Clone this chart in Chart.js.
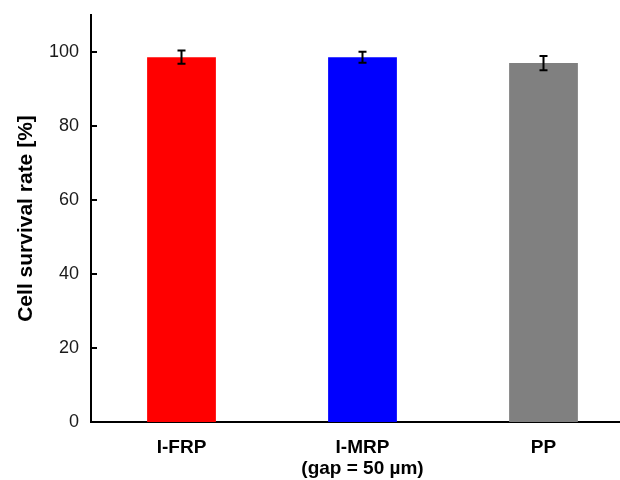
<!DOCTYPE html>
<html>
<head>
<meta charset="utf-8">
<script src="https://cdn.jsdelivr.net/npm/chart.js@4.4.0/dist/chart.umd.min.js"></script>
<style>
  html, body { margin: 0; padding: 0; background: #fff; overflow: hidden; }
  #wrap { width: 640px; height: 480px; }
</style>
</head>
<body>
<div id="wrap"><canvas id="survival-chart"></canvas></div>
<script>
// data
var categories = ['I-FRP', ['I-MRP', '(gap = 50 \u00b5m)'], 'PP'];
var survival = [98.6, 98.6, 97.0];
var survivalErr = [1.8, 1.5, 1.9];
var barColors = ['#ff0000', '#0000ff', '#808080'];
var yTicks = [0, 20, 40, 60, 80, 100];

// error bars + inward tick marks
var extras = {
  id: 'extras',
  afterDatasetsDraw: function (chart) {
    var c = chart.ctx;
    var x = chart.scales.x, y = chart.scales.y;
    c.save();
    c.strokeStyle = '#000';
    c.lineWidth = 2;
    survival.forEach(function (v, i) {
      var px = x.getPixelForValue(i);
      var top = y.getPixelForValue(v + survivalErr[i]);
      var bot = y.getPixelForValue(v - survivalErr[i]);
      c.beginPath();
      c.moveTo(px, top); c.lineTo(px, bot);
      c.moveTo(px - 4, top); c.lineTo(px + 4, top);
      c.moveTo(px - 4, bot); c.lineTo(px + 4, bot);
      c.stroke();
    });
    // tick marks pointing into the plot
    var left = chart.chartArea.left;
    yTicks.forEach(function (t) {
      var py = y.getPixelForValue(t);
      c.beginPath();
      c.moveTo(left, py); c.lineTo(left + 6, py);
      c.stroke();
    });
    c.restore();
  }
};

var ctx = document.getElementById('survival-chart').getContext('2d');

var myChart = new Chart(ctx, {
  type: 'bar',
  data: {
    labels: categories,
    datasets: [{
      data: survival,
      backgroundColor: barColors,
      borderWidth: 0,
      categoryPercentage: 1,
      barPercentage: 0.38
    }]
  },
  options: {
    responsive: true,
    maintainAspectRatio: false,
    animation: false,
    layout: { padding: { top: 15, right: 6, left: 0, bottom: 0 } },
    plugins: {
      legend: { display: false },
      tooltip: { enabled: false }
    },
    scales: {
      x: {
        grid: { display: false, drawTicks: false },
        border: { display: true, color: '#000', width: 2 },
        ticks: {
          color: '#000',
          padding: 15,
          font: { family: 'Liberation Sans', size: 19, weight: 'bold', lineHeight: 1.1 }
        },
        afterFit: function (s) { s.height = 58; s.paddingLeft = 0; s.paddingRight = 0; }
      },
      y: {
        min: 0,
        max: 110,
        grid: { display: false, drawTicks: false },
        border: { display: true, color: '#000', width: 2 },
        afterBuildTicks: function (s) {
          s.ticks = yTicks.map(function (v) { return { value: v }; });
        },
        ticks: {
          color: '#1a1a1a',
          padding: 12,
          font: { family: 'Liberation Sans', size: 18 }
        },
        title: {
          display: true,
          text: 'Cell survival rate [%]',
          color: '#000',
          padding: { top: 14, bottom: 4 },
          font: { family: 'Liberation Sans', size: 21, weight: 'bold' }
        },
        afterFit: function (s) { s.width = 91; s.paddingTop = 0; s.paddingBottom = 0; }
      }
    }
  },
  plugins: [extras]
});
</script>
</body>
</html>
